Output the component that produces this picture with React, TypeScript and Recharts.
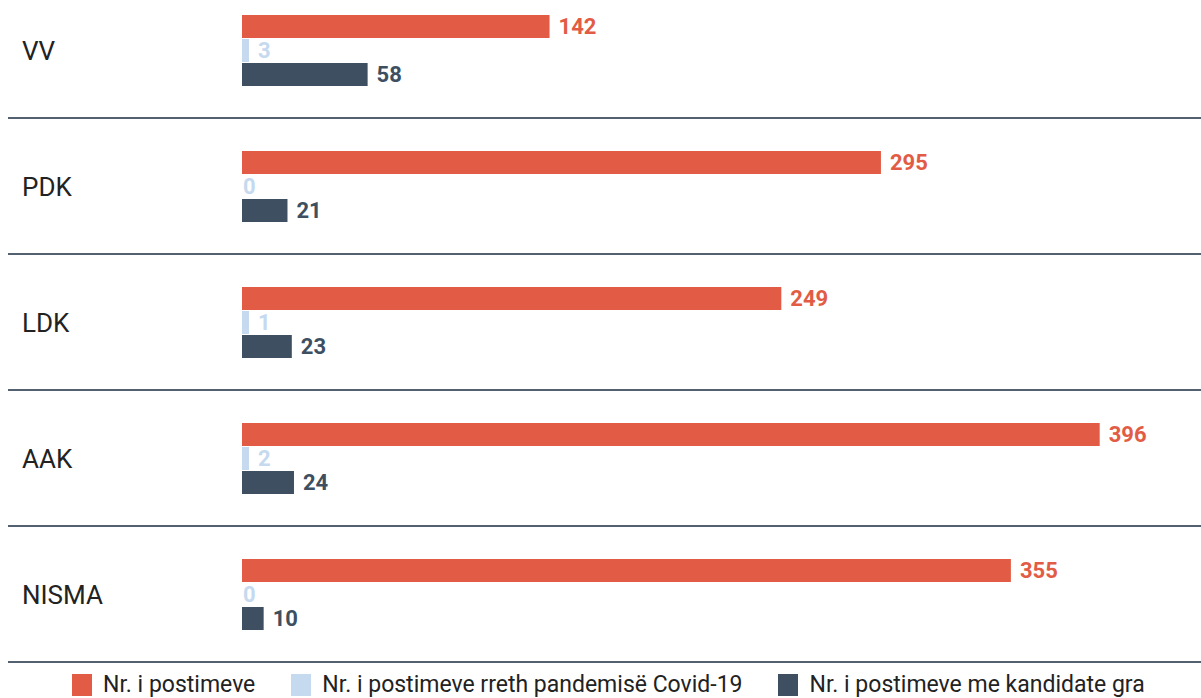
import { BarChart, Bar, XAxis, YAxis, Legend, LabelList } from 'recharts'

const parties = ['VV', 'PDK', 'LDK', 'AAK', 'NISMA']
const posts = [142, 295, 249, 396, 355]
const covidPosts = [3, 0, 1, 2, 0]
const womenPosts = [58, 21, 23, 24, 10]

const seriesNames = [
  'Nr. i postimeve',
  'Nr. i postimeve rreth pandemisë Covid-19',
  'Nr. i postimeve me kandidate gra',
]
const colors = ['#E25C45', '#C5D9EF', '#3D4F60']

const data = parties.map((name, i) => ({
  name,
  posts: posts[i],
  covid: covidPosts[i],
  women: womenPosts[i],
}))

const FONT = 'Roboto, "Noto Sans", sans-serif'
const PLOT_H = 680
const LEGEND_H = 36
const BAND = PLOT_H / parties.length

function PartyTick(props: any) {
  const { y, payload } = props
  const half = payload && typeof payload.offset === 'number' && payload.offset > 0 ? payload.offset : BAND / 2
  return (
    <g>
      <text x={22} y={y + 1} dominantBaseline="central" fontFamily={FONT} fontSize={26} fill="#222">
        {payload.value}
      </text>
      <line x1={8} x2={1201} y1={y + half} y2={y + half} stroke="#52606f" strokeWidth={2} />
    </g>
  )
}

function valueLabel(color: string) {
  return (props: any) => {
    const { x, y, width, height, value } = props
    const v = Number(value)
    const w = Number(width) || 0
    return (
      <text
        x={Number(x) + w + (v ? 9 : 1)}
        y={Number(y) + Number(height) / 2}
        dominantBaseline="central"
        fontFamily={FONT}
        fontWeight={700}
        fontSize={22}
        fill={color}
      >
        {String(v)}
      </text>
    )
  }
}

function LegendBox() {
  return (
    <div style={{ display: 'flex', alignItems: 'center', paddingLeft: 72, paddingTop: 12, fontFamily: FONT }}>
      {seriesNames.map((s, i) => (
        <div key={s} style={{ display: 'flex', alignItems: 'center', marginRight: 36 }}>
          <span style={{ width: 20, height: 22, background: colors[i], marginRight: 11, display: 'inline-block' }} />
          <span style={{ fontSize: 23, color: '#222', lineHeight: '22px' }}>{s}</span>
        </div>
      ))}
    </div>
  )
}

export default function App() {
  return (
    <div style={{ position: 'absolute', left: 0, top: 0, width: 1201, height: 698, overflow: 'hidden', background: '#fff' }}>
      <div style={{ position: 'absolute', left: 0, top: -18.5 }}>
        <BarChart
          width={1201}
          height={PLOT_H + LEGEND_H}
          data={data}
          layout="vertical"
          margin={{ top: 0, right: 6, left: 0, bottom: 0 }}
          barSize={23}
          barGap={1}
        >
          <XAxis type="number" domain={[0, 440]} hide />
          <YAxis
            type="category"
            dataKey="name"
            width={242}
            axisLine={false}
            tickLine={false}
            tick={<PartyTick />}
          />
          <Legend verticalAlign="bottom" height={LEGEND_H} wrapperStyle={{ left: 0, width: 1201 }} content={<LegendBox />} />
          <Bar dataKey="posts" name={seriesNames[0]} fill={colors[0]} isAnimationActive={false}>
            <LabelList dataKey="posts" content={valueLabel(colors[0])} />
          </Bar>
          <Bar
            dataKey="covid"
            name={seriesNames[1]}
            fill={colors[1]}
            minPointSize={(v: number) => (v > 0 ? 7 : 0.01)}
            isAnimationActive={false}
          >
            <LabelList dataKey="covid" content={valueLabel(colors[1])} />
          </Bar>
          <Bar dataKey="women" name={seriesNames[2]} fill={colors[2]} isAnimationActive={false}>
            <LabelList dataKey="women" content={valueLabel(colors[2])} />
          </Bar>
        </BarChart>
      </div>
    </div>
  )
}
